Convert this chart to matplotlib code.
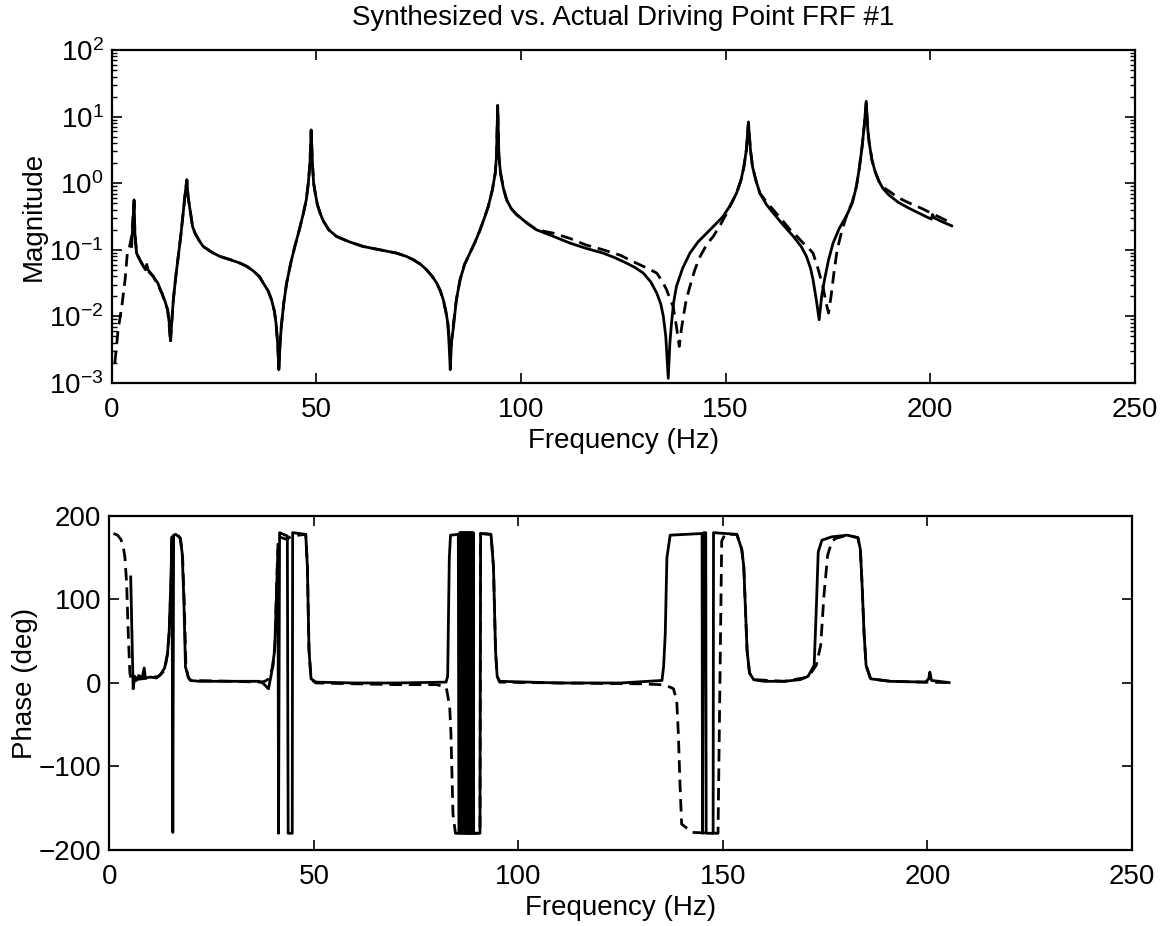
import matplotlib
matplotlib.use("Agg")
import numpy as np
import matplotlib.pyplot as plt
from matplotlib.ticker import LogLocator, NullFormatter

plt.rcParams['font.family'] = ['Liberation Sans', 'DejaVu Sans']
plt.rcParams['mathtext.fontset'] = 'custom'
plt.rcParams['mathtext.rm'] = 'Liberation Sans'
plt.rcParams['mathtext.it'] = 'Liberation Sans:italic'
plt.rcParams['mathtext.bf'] = 'Liberation Sans:bold'
plt.rcParams['mathtext.default'] = 'regular'

# ---- magnitude, measured (solid), log10 of |H| ----
f_mag_meas = [4.8, 5.1, 5.4, 5.6, 6.0, 6.8, 7.7, 8.2, 8.5, 8.8, 10.1, 11.2, 12.2, 13.0,
              13.6, 14.0, 14.3, 14.6, 15.0, 15.6, 16.2, 16.8, 17.4, 17.9, 18.3, 18.6,
              19.1, 19.7, 20.3, 21.5, 22.3, 24.5, 26.4, 29.0, 31.3, 33.0, 34.6, 36.0,
              37.0, 38.2, 39.0, 39.7, 40.1, 40.5, 40.8, 41.1, 41.4, 42.0, 42.7, 43.7,
              44.7, 45.8, 46.8, 47.5, 48.0, 48.4, 48.7, 49.0, 49.3, 49.7, 50.2, 51.0,
              51.7, 53.0, 54.9, 58.0, 61.4, 65.5, 69.6, 72.0, 73.7, 75.5, 76.9, 78.3,
              79.4, 80.3, 81.0, 81.7, 82.1, 82.4, 82.7, 83.0, 83.5, 84.2, 85.1, 86.2,
              87.5, 88.8, 90.0, 91.0, 92.0, 93.0, 93.7, 94.0, 94.3, 94.6, 95.0, 95.7,
              96.5, 97.6, 98.9, 101.5, 103.8, 108.0, 112.0, 116.0, 120.1, 123.0, 125.8,
              128.0, 129.9, 131.7, 133.2, 134.2, 134.8, 135.4, 136.0, 136.4, 136.8,
              137.3, 138.0, 139.5, 141.3, 143.3, 145.4, 147.5, 149.4, 151.2, 152.7,
              153.8, 154.5, 155.1, 155.6, 156.1, 156.6, 157.4, 158.4, 160.0, 161.7,
              164.0, 166.6, 168.5, 169.8, 170.8, 171.4, 172.2, 172.9, 173.5, 174.2,
              175.2, 176.3, 177.8, 179.5, 181.0, 182.0, 182.7, 183.4, 183.9, 184.4,
              184.8, 185.1, 185.8, 186.6, 187.5, 188.5, 190.0, 192.3, 195.0, 199.0,
              200.3, 200.6, 201.0, 203.0, 205.3]
logmag_meas = [-0.95, -0.6, -0.25, -0.75, -1.05, -1.15, -1.25, -1.3, -1.22, -1.3, -1.4,
               -1.5, -1.65, -1.78, -1.9, -2.1, -2.35, -2.1, -1.75, -1.4, -1.1, -0.8,
               -0.45, -0.15, 0.05, -0.2, -0.4, -0.65, -0.75, -0.88, -0.95, -1.04, -1.1,
               -1.15, -1.2, -1.25, -1.32, -1.4, -1.5, -1.62, -1.75, -1.92, -2.1, -2.4,
               -2.8, -2.4, -2.15, -1.8, -1.5, -1.2, -0.95, -0.7, -0.45, -0.25, 0.0,
               0.3, 0.8, 0.3, 0.0, -0.15, -0.32, -0.47, -0.57, -0.7, -0.8, -0.88, -0.95,
               -1.0, -1.05, -1.1, -1.15, -1.22, -1.3, -1.4, -1.5, -1.62, -1.75, -1.95,
               -2.1, -2.4, -2.8, -2.4, -2.15, -1.75, -1.45, -1.22, -1.05, -0.88, -0.7,
               -0.53, -0.35, -0.1, 0.15, 0.4, 1.17, 0.4, 0.15, -0.08, -0.25, -0.38,
               -0.47, -0.6, -0.7, -0.8, -0.9, -0.98, -1.05, -1.12, -1.2, -1.27, -1.35,
               -1.48, -1.65, -1.82, -2.0, -2.3, -2.93, -2.4, -2.1, -1.8, -1.55, -1.28,
               -1.05, -0.88, -0.75, -0.62, -0.5, -0.33, -0.15, 0.05, 0.25, 0.5, 0.92,
               0.5, 0.25, 0.05, -0.15, -0.32, -0.45, -0.62, -0.8, -0.95, -1.1, -1.28,
               -1.45, -1.75, -2.05, -1.7, -1.45, -1.15, -0.9, -0.68, -0.5, -0.3, -0.05,
               0.22, 0.55, 0.85, 1.23, 0.8, 0.62, 0.35, 0.17, 0.03, -0.08, -0.18,
               -0.29, -0.38, -0.5, -0.54, -0.47, -0.52, -0.58, -0.64]

# ---- magnitude, synthesized (dashed), log10 of |H| ----
f_mag_syn = [0.7, 1.5, 2.4, 3.2, 3.75, 4.3, 4.8, 5.1, 5.4, 5.6, 6.0, 6.8, 7.7, 10.1,
             12.2, 13.6, 14.0, 14.3, 14.6, 15.0, 15.6, 16.2, 16.8, 17.4, 17.9, 18.3,
             18.6, 19.1, 19.7, 20.3, 21.5, 22.3, 24.5, 26.4, 29.0, 31.3, 33.0, 34.6,
             36.0, 37.0, 38.2, 39.0, 39.7, 40.1, 40.5, 40.8, 41.1, 41.4, 42.0, 42.7,
             43.7, 44.7, 45.8, 46.8, 47.5, 48.0, 48.4, 48.7, 49.0, 49.3, 49.7, 50.2,
             51.0, 51.7, 53.0, 54.9, 58.0, 61.4, 65.5, 69.6, 72.0, 73.7, 75.5, 76.9,
             78.3, 79.4, 80.3, 81.0, 81.7, 82.1, 82.4, 82.8, 83.1, 83.5, 84.2, 85.1,
             86.2, 87.5, 88.8, 90.0, 91.0, 92.0, 93.0, 93.7, 94.0, 94.3, 94.6, 95.0,
             95.7, 96.5, 97.6, 98.9, 101.5, 103.8, 107.9, 112.0, 116.0, 120.1, 124.2,
             128.2, 131.0, 133.2, 134.6, 135.6, 136.5, 137.2, 138.0, 138.7, 139.2,
             139.7, 140.4, 141.3, 142.5, 143.8, 145.4, 147.0, 148.8, 150.3, 151.2,
             152.7, 153.8, 154.5, 155.1, 155.6, 156.1, 156.6, 157.4, 158.4, 160.0,
             161.7, 163.8, 165.8, 167.5, 169.0, 170.4, 171.4, 172.7, 173.8, 174.6,
             175.2, 175.8, 176.5, 177.3, 178.5, 179.8, 181.0, 182.0, 182.7, 183.4,
             183.9, 184.4, 184.8, 185.1, 185.8, 186.6, 187.5, 188.5, 190.0, 192.3,
             195.0, 198.0, 202.0, 205.3]
logmag_syn = [-2.7, -2.2, -1.85, -1.45, -1.05, -0.95, -0.8, -0.55, -0.3, -0.75, -1.05,
              -1.15, -1.25, -1.4, -1.65, -1.9, -2.15, -2.4, -2.1, -1.75, -1.4, -1.1,
              -0.8, -0.45, -0.15, 0.05, -0.2, -0.4, -0.65, -0.75, -0.88, -0.95, -1.04,
              -1.1, -1.15, -1.2, -1.25, -1.32, -1.4, -1.5, -1.62, -1.75, -1.92, -2.1,
              -2.4, -2.75, -2.4, -2.15, -1.8, -1.5, -1.2, -0.95, -0.7, -0.45, -0.25,
              0.0, 0.3, 0.78, 0.3, 0.0, -0.15, -0.32, -0.47, -0.57, -0.7, -0.8, -0.88,
              -0.95, -1.0, -1.05, -1.1, -1.15, -1.22, -1.3, -1.4, -1.5, -1.62, -1.75,
              -1.95, -2.1, -2.3, -2.55, -2.3, -2.1, -1.75, -1.45, -1.22, -1.05, -0.88,
              -0.7, -0.53, -0.35, -0.1, 0.15, 0.4, 1.15, 0.4, 0.15, -0.08, -0.25,
              -0.38, -0.47, -0.6, -0.7, -0.75, -0.83, -0.93, -1.0, -1.08, -1.2, -1.28,
              -1.35, -1.48, -1.6, -1.75, -1.85, -2.15, -2.45, -2.2, -2.0, -1.75, -1.55,
              -1.3, -1.1, -0.92, -0.8, -0.62, -0.45, -0.33, -0.15, 0.05, 0.25, 0.5,
              0.9, 0.5, 0.25, 0.05, -0.15, -0.28, -0.4, -0.55, -0.7, -0.8, -0.9, -0.98,
              -1.05, -1.3, -1.55, -1.8, -1.95, -1.7, -1.35, -1.0, -0.7, -0.45, -0.28,
              -0.05, 0.22, 0.55, 0.85, 1.2, 0.8, 0.62, 0.35, 0.17, 0.03, -0.06, -0.12,
              -0.22, -0.3, -0.38, -0.5, -0.6]

# ---- phase, measured (solid), degrees ----
f_ph_meas = [5.2, 5.5, 5.8, 6.2, 6.6, 7.2, 8.0, 8.5, 8.8, 10.0, 11.5, 12.5, 13.5, 14.2,
             14.6, 15.0, 15.3, 15.5, 15.7, 16.2, 17.3, 17.8, 18.2, 18.6, 19.3, 19.8,
             22.0, 30.0, 36.6, 37.5, 38.9, 39.6, 40.4, 40.8, 41.2, 41.35, 41.6, 43.5,
             43.7, 44.7, 44.8, 48.0, 48.4, 48.8, 49.3, 50.5, 60.0, 70.0, 82.3, 82.7,
             83.1, 83.4, 85.3,
             85.45, 85.6, 85.65, 85.8, 85.85, 86.0, 86.05, 86.2, 86.25, 86.4, 86.45,
             86.6, 86.65, 86.8, 86.85, 87.0, 87.05, 87.2, 87.25, 87.4, 87.45, 87.6,
             87.65, 87.8, 87.85, 88.0, 88.05, 88.2, 88.25, 88.4, 88.45, 88.6, 88.65,
             88.8, 88.85, 89.0, 89.05,
             90.6, 90.75, 93.3, 93.9, 94.4, 94.8, 95.4, 110.0, 125.0, 135.1, 135.5,
             135.9, 136.3, 137.1, 144.9, 145.0, 145.3, 145.8, 145.9, 147.6, 147.7,
             153.4, 154.6, 155.1, 155.9, 156.5, 157.5, 160.0, 165.0, 168.9, 170.8,
             172.3, 172.8, 173.3, 174.2, 176.6, 180.4, 183.0, 183.6, 184.0, 184.5,
             185.0, 186.1, 190.9, 199.5, 200.3, 200.6, 201.0, 205.3]
ph_meas = [127, 60, -7, 8, 3, 9, 6, 18, 6, 7, 6, 10, 18, 35, 60, 119, 175, -179, 177,
           178, 174, 155, 99, 19, 7, 3, 2, 2, 2, 0, -7, 11, 39, 99, 159, -180, 180, 176,
           -180, -180, 180, 178, 139, 39, 5, 1, 0, 0, 1, 8, 150, 177, 178,
           -180, -180, 180, 180, -180, -180, 180, 180, -180, -180, 180, 180, -180,
           -180, 180, 180, -180, -180, 180, 180, -180, -180, 180, 180, -180, -180, 180,
           180, -180, -180, 180, 180, -180, -180, 180, 180, -180,
           -180, 179, 178, 139, 39, 8, 2, 0, 0, 3, 20, 59, 150, 177, 179, -180, 180,
           180, -180, -180, 180, 178, 160, 139, 39, 12, 4, 2, 2, 4, 8, 21, 85, 157,
           171, 175, 177, 174, 160, 120, 60, 21, 5, 2, 1, 5, 13, 3, 0.5]

# ---- phase, synthesized (dashed), degrees ----
f_ph_syn = [1.0, 2.0, 2.8, 3.4, 3.8, 4.2, 4.6, 5.0, 5.4, 6.0, 8.0, 10.0, 12.0, 13.5,
            14.2, 14.6, 15.0, 15.4, 15.8, 16.5, 17.4, 17.9, 18.3, 18.7, 19.3, 20.0,
            30.0, 37.0, 38.0, 39.0, 40.0, 40.5, 40.9, 41.2, 41.4, 43.4, 44.5, 48.0,
            48.4, 48.8, 49.3, 50.5, 60.0, 70.0, 80.0, 82.3, 82.5, 83.2, 83.5, 84.0,
            84.6, 90.6, 90.75, 93.3, 93.9, 94.4, 94.8, 95.4, 110.0, 130.0, 134.6,
            137.1, 137.9, 138.7, 139.1, 139.5, 139.9, 142.5, 148.8, 149.7, 150.5,
            153.4, 154.6, 155.1, 155.9, 156.5, 157.5, 165.0, 170.8, 172.8, 173.9,
            174.7, 175.6, 176.6, 177.5, 180.4, 183.0, 183.6, 184.0, 184.5, 185.0,
            186.1, 190.9, 199.5, 205.3]
ph_syn = [179, 177, 172, 163, 150, 120, 60, 12, 2, 4, 5, 6, 8, 15, 35, 60, 110, 170,
          178, 179, 172, 150, 95, 20, 6, 3, 2, 1, 2, 5, 20, 50, 120, 165, 175, 172,
          176, 178, 139, 39, 4, 0, -1, -2, -2, -5, -9, -29, -61, -157, -180, -180,
          179, 178, 139, 39, 8, 1, 0, -1, -2, -5, -7, -21, -61, -121, -169, -179,
          -180, 170, 178, 178, 160, 139, 39, 12, 4, 2, 7, 21, 45, 105, 153, 169, 173,
          177, 174, 160, 120, 60, 21, 5, 2, 1, 0.5]

dash = (0, (4.5, 2.5))
fs = 20

fig = plt.figure(figsize=(11.69, 9.26), dpi=100)
ax1 = fig.add_axes([0.0958, 0.5864, 0.8747, 0.3596])
ax2 = fig.add_axes([0.0936, 0.0821, 0.8747, 0.3607])

# magnitude
ax1.semilogy(f_mag_syn, 10 ** np.array(logmag_syn), color='k', lw=2.0, linestyle=dash)
ax1.semilogy(f_mag_meas, 10 ** np.array(logmag_meas), color='k', lw=2.0)
ax1.set_xlim(0, 250)
ax1.set_ylim(1e-3, 1e2)
ax1.yaxis.set_major_locator(LogLocator(base=10, numticks=10))
ax1.yaxis.set_minor_locator(LogLocator(base=10, subs=np.arange(2, 10), numticks=20))
ax1.yaxis.set_minor_formatter(NullFormatter())
ax1.set_ylabel("Magnitude", fontsize=fs, labelpad=2)
ax1.set_xlabel("Frequency (Hz)", fontsize=fs, labelpad=4)
ax1.set_title("Synthesized vs. Actual Driving Point FRF #1", fontsize=fs, pad=18)

# phase
ax2.plot(f_ph_syn, ph_syn, color='k', lw=2.0, linestyle=dash)
ax2.plot(f_ph_meas, ph_meas, color='k', lw=2.0)
ax2.set_xlim(0, 250)
ax2.set_ylim(-200, 200)
ax2.set_yticks([-200, -100, 0, 100, 200])
ax2.set_ylabel("Phase (deg)", fontsize=fs, labelpad=0)
ax2.set_xlabel("Frequency (Hz)", fontsize=fs, labelpad=4)

for ax in (ax1, ax2):
    ax.set_xticks([0, 50, 100, 150, 200, 250])
    ax.tick_params(which='major', direction='in', top=True, right=True,
                   length=7, width=1.2, labelsize=fs)
    ax.tick_params(axis='x', which='major', pad=10)
    ax.tick_params(axis='y', which='major', pad=6)
    ax.tick_params(which='minor', direction='in', top=False, right=True,
                   length=3.5, width=1.0)
    for sp in ax.spines.values():
        sp.set_linewidth(1.6)

fig.savefig("out.png", dpi=100)
